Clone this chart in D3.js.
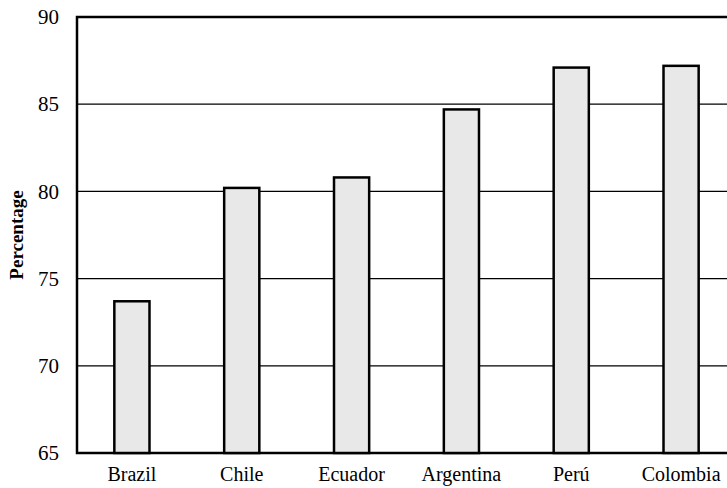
<!DOCTYPE html>
<html>
<head>
<meta charset="utf-8">
<script src="https://cdn.jsdelivr.net/npm/d3@7"></script>
<style>
  body { margin: 0; background: #fff; }
  text { font-family: "Liberation Serif", "Times New Roman", serif; }
</style>
</head>
<body>
<div class="chart"></div>
<script>
var countries = ["Brazil", "Chile", "Ecuador", "Argentina", "Perú", "Colombia"]
var percentages = [73.7, 80.2, 80.8, 84.7, 87.1, 87.2]
var yTicks = [65, 70, 75, 80, 85, 90]

var width = 727
var height = 488
var plotLeft = 77, plotTop = 17, plotBottom = 453, plotRight = 736

var svg = d3.select(".chart").append("svg")
            .attr("width", width)
            .attr("height", height)

var x = d3.scaleBand()
          .domain(countries)
          .range([plotLeft, plotRight])
          .paddingInner(0.68)
          .paddingOuter(0.34)

var y = d3.scaleLinear()
          .domain([65, 90])
          .range([plotBottom, plotTop])

// gridlines
svg.selectAll(".grid")
   .data(yTicks.slice(1, -1))
   .enter()
   .append("line")
   .attr("x1", plotLeft)
   .attr("x2", width)
   .attr("y1", function(d) { return y(d) })
   .attr("y2", function(d) { return y(d) })
   .attr("stroke", "#000")
   .attr("stroke-width", 1.2)

// frame: top, left, bottom
svg.append("path")
   .attr("d", "M" + width + "," + y(90) + "H" + plotLeft + "V" + y(65) + "H" + width)
   .attr("fill", "none")
   .attr("stroke", "#000")
   .attr("stroke-width", 2.5)

var data = countries.map(function(c, i) { return {name: c, value: percentages[i]} })

svg.selectAll(".bar")
   .data(data)
   .enter()
   .append("rect")
   .attr("x", function(d) { return x(d.name) })
   .attr("y", function(d) { return y(d.value) })
   .attr("width", x.bandwidth())
   .attr("height", function(d) { return y(65) - y(d.value) })
   .attr("fill", "#e8e8e8")
   .attr("stroke", "#000")
   .attr("stroke-width", 2.5)

// y axis tick labels
var yAxis = d3.axisLeft(y).tickValues(yTicks).tickSize(0).tickPadding(18)
var gy = svg.append("g")
            .attr("transform", "translate(" + plotLeft + ",0)")
            .call(yAxis)
gy.select(".domain").remove()
gy.selectAll("text")
  .style("font-family", "'Liberation Serif', serif")
  .style("font-size", "21px")
  .attr("fill", "#000")

// x axis labels
var xAxis = d3.axisBottom(x).tickSize(0).tickPadding(14)
var gx = svg.append("g")
            .attr("transform", "translate(0," + plotBottom + ")")
            .call(xAxis)
gx.select(".domain").remove()
gx.selectAll("text")
  .style("font-family", "'Liberation Serif', serif")
  .style("font-size", "20px")
  .attr("fill", "#000")

svg.append("text")
   .attr("transform", "translate(23," + 235 + ") rotate(-90)")
   .attr("text-anchor", "middle")
   .style("font-size", "19px")
   .style("font-weight", "bold")
   .text("Percentage")
</script>
</body>
</html>
